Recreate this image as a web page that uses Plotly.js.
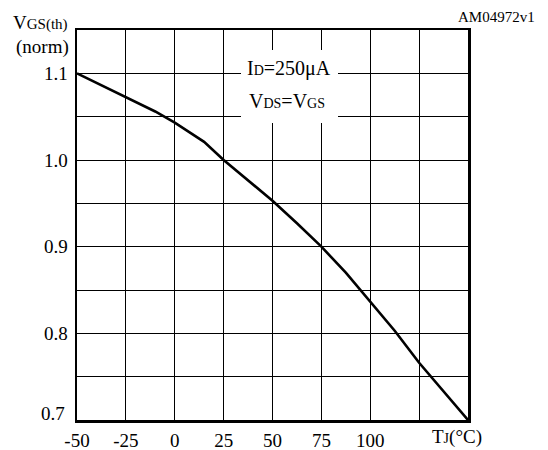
<!DOCTYPE html>
<html>
<head>
<meta charset="utf-8">
<script src="https://cdn.plot.ly/plotly-3.0.1.min.js"></script>
<style>html,body{margin:0;padding:0;background:#fff;}#chart{width:548px;height:450px;}</style>
</head>
<body>
<div id="chart"></div>
<script>
// Temperature (°C)
var tempC = [-50, -25, -10, 0, 15, 25, 37.5, 50, 62.5, 75, 87.5, 100, 112.5, 125, 137.5, 150];
// Normalized gate threshold voltage
var vgsNorm = [1.1, 1.073, 1.056, 1.043, 1.021, 1.0, 0.977, 0.953, 0.927, 0.9, 0.870, 0.837, 0.803, 0.766, 0.733, 0.7];

var xTickVals = [-50, -25, 0, 25, 50, 75, 100, 125];
var xTickText = ["-50", "-25", "0", "25", "50", "75", "100", ""];
var yTickVals = [0.7, 0.75, 0.8, 0.85, 0.9, 0.95, 1.0, 1.05, 1.1];
var yTickText = ["", "", "0.8", "", "0.9", "", "1.0", "", "1.1"];
var yBottomLabel = "0.7";

var FONT = '"Liberation Serif", "Times New Roman", serif';
var L = 77, R = 468, T = 30, B = 420;
function px(x) { return (x - L) / (R - L); }
function py(y) { return (B - y) / (B - T); }

var trace = {
  x: tempC, y: vgsNorm, type: 'scatter', mode: 'lines',
  line: {color: '#000', width: 2.6}, hoverinfo: 'skip'
};

var axisCommon = {
  showline: true, mirror: true, linecolor: '#000', linewidth: 2.5,
  showgrid: true, gridcolor: '#000', gridwidth: 1, zeroline: false,
  ticks: '', tickmode: 'array', tickfont: {family: FONT, size: 19, color: '#000'}
};

var layout = {
  width: 548, height: 450,
  margin: {l: L, r: 548 - R, t: T, b: 450 - B},
  paper_bgcolor: '#fff', plot_bgcolor: '#fff',
  showlegend: false,
  font: {family: FONT, color: '#000'},
  xaxis: Object.assign({}, axisCommon, {range: [-50, 150], tickvals: xTickVals, ticktext: xTickText, ticklabelstandoff: 2}),
  yaxis: Object.assign({}, axisCommon, {range: [0.7, 1.15], tickvals: yTickVals, ticktext: yTickText, ticklabelstandoff: 3}),
  shapes: [
    {type: 'rect', xref: 'paper', yref: 'paper', x0: px(241), x1: px(338), y0: py(123), y1: py(50),
     fillcolor: '#fff', line: {width: 0}, layer: 'above'}
  ],
  annotations: [
    {xref: 'paper', yref: 'paper', x: px(67), y: py(413), xanchor: 'right', yanchor: 'middle', showarrow: false,
     text: yBottomLabel, font: {family: FONT, size: 19, color: '#000'}},
    {xref: 'paper', yref: 'paper', x: px(70), y: py(22), xanchor: 'right', yanchor: 'middle', showarrow: false,
     text: 'V<span style="font-size:15px">GS(th)</span>', font: {family: FONT, size: 19, color: '#000'}},
    {xref: 'paper', yref: 'paper', x: px(71), y: py(47), xanchor: 'right', yanchor: 'middle', showarrow: false,
     text: '(norm)', font: {family: FONT, size: 19, color: '#000'}},
    {xref: 'paper', yref: 'paper', x: px(537), y: py(17), xanchor: 'right', yanchor: 'middle', showarrow: false,
     text: 'AM04972v1', font: {family: FONT, size: 15, color: '#000'}},
    {xref: 'paper', yref: 'paper', x: px(457), y: py(437), xanchor: 'center', yanchor: 'middle', showarrow: false,
     text: 'T<span style="font-size:14px">J</span>(°C)', font: {family: FONT, size: 19, color: '#000'}},
    {xref: 'paper', yref: 'paper', x: px(289), y: py(68), xanchor: 'center', yanchor: 'middle', showarrow: false,
     text: 'I<span style="font-size:14px">D</span>=250μA', font: {family: FONT, size: 20, color: '#000'}},
    {xref: 'paper', yref: 'paper', x: px(287), y: py(101), xanchor: 'center', yanchor: 'middle', showarrow: false,
     text: 'V<span style="font-size:14px">DS</span>=V<span style="font-size:14px">GS</span>', font: {family: FONT, size: 20, color: '#000'}}
  ]
};

Plotly.newPlot('chart', [trace], layout, {staticPlot: true, displayModeBar: false});
</script>
</body>
</html>
